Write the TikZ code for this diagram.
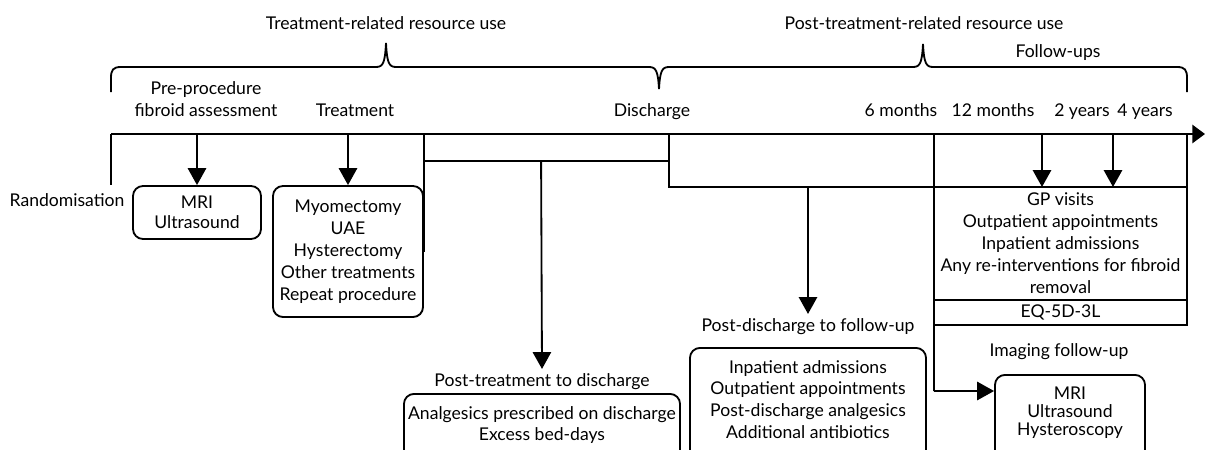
\documentclass[tikz,border=0pt]{standalone}
\usepackage{fontspec}
\setmainfont{Lato}
\usetikzlibrary{calc}
\usetikzlibrary{arrows.meta}
\usetikzlibrary{positioning}

\tikzset{
  line/.style={black,line width=1.3pt},
  arr/.style={line,-{Triangle[length=12pt,width=13pt]}},
  rbox/.style={line,draw,rounded corners=2.5mm,align=center,inner sep=0pt},
  sbox/.style={line,draw,align=center,inner sep=0pt,outer sep=0pt},
  lbl/.style={align=center,inner sep=2pt}
}

\begin{document}
\begin{tikzpicture}[x=0.025cm,y=-0.025cm,font=\fontsize{12.5}{15.6}\selectfont]
\clip (0,0) rectangle (1205,449);

\coordinate (T0) at (111,134);
\coordinate (T1) at (1205,134);
\coordinate (Rand) at (111,185);
\coordinate (J1) at (423,161);
\coordinate (J2) at (669,161);
\coordinate (J3) at (669,187);
\coordinate (F1) at (1042,134);
\coordinate (F2) at (1113,134);
\coordinate (Img) at (934,391);

% braces
\draw[line] (111,92) -- (111,78) .. controls (111,70) and (113,67) .. (121,67) -- (376,67) .. controls (383,67) and (385,63) .. (386,43) .. controls (387,63) and (389,67) .. (396,67) -- (649,67) .. controls (656,67) and (658,71) .. (659,89);
\draw[line] (659,89) .. controls (660,71) and (662,67) .. (669,67) -- (913,67) .. controls (920,67) and (922,63) .. (923,44) .. controls (924,63) and (926,67) .. (933,67) -- (1177,67) .. controls (1185,67) and (1187,70) .. (1187,78) -- (1187,92);

\node (trtitle) at (386,23) {Treatment-related resource use};
\node (pttitle) at (924,23) {Post-treatment-related resource use};
\node (followups) at (1058,53) {Follow-ups};

\node[lbl] (preproc) at (206,99) {Pre-procedure\\fibroid assessment};
\node[anchor=base] (treat) at (355,116) {Treatment};
\node[anchor=base] (discharge) at (652,116) {Discharge};
\node[anchor=base] (m6) at (901,116) {6 months};
\node[anchor=base] (m12) at (993,116) {12 months};
\node[anchor=base] (y2) at (1082,116) {2 years};
\node[anchor=base] (y4) at (1145,116) {4 years};
\node (rand) at (67,200) {Randomisation};

\node[rbox,minimum width=32mm,minimum height=13.25mm,font=\fontsize{12.5}{14.2}\selectfont] (mribox) at (197,212.5) {MRI\\Ultrasound};
\node[rbox,minimum width=37.5mm,minimum height=32.75mm] (treatbox) at (348,251.5) {Myomectomy\\UAE\\Hysterectomy\\Other treatments\\Repeat procedure};
\node[sbox,minimum width=63.25mm,minimum height=28.25mm] (fubox) at (1060.5,243.5) {GP visits\\Outpatient appointments\\Inpatient admissions\\Any re-interventions for fibroid\\removal};
\node[sbox,minimum width=63.25mm,minimum height=6.25mm,anchor=north] (eqbox) at (fubox.south) {EQ-5D-3L};

\node (ptdlabel) at (542,382) {Post-treatment to discharge};
\node[rbox,minimum width=69mm,minimum height=20mm,anchor=north] (ptdbox) at (542,393) {};
\node[lbl,below=2.5mm of ptdbox.north] (ptdtext) {Analgesics prescribed on discharge\\Excess bed-days};

\node (pdflabel) at (808,327) {Post-discharge to follow-up};
\node[rbox,minimum width=59mm,minimum height=28mm,anchor=north] (pdfbox) at (808,347) {};
\node[lbl,below=2.5mm of pdfbox.north] (pdftext) {Inpatient admissions\\Outpatient appointments\\Post-discharge analgesics\\Additional antibiotics};

\node (imglabel) at (1059,352) {Imaging follow-up};
\node[rbox,minimum width=37.5mm,minimum height=22mm,anchor=north] (imgbox) at (1070,374) {};
\node[lbl,below=2.5mm of imgbox.north,font=\fontsize{12.5}{12.6}\selectfont] (imgtext) {MRI\\Ultrasound\\Hysteroscopy};

% timeline
\draw[line,-{Triangle[length=9pt,width=13pt]}] (T0) -- (T1);
\draw[line] (T0) -- (Rand);
\draw[arr] (mribox.north |- T0) -- (mribox.north);
\draw[arr] (treatbox.north |- T0) -- (treatbox.north);
\draw[line] (treatbox.north east |- T0) -- (treatbox.east);
\draw[line] (J1) -- (J2);
\draw[arr] ($(J1)!0.48!(J2)$) -- (ptdlabel.north);
\draw[line] (J3 |- T0) -- (J3) -- (fubox.north west);
\draw[arr] (pdflabel.north |- J3) -- (pdflabel.north);
\draw[arr] (F1) -- (F1 |- fubox.north);
\draw[arr] (F2) -- (F2 |- fubox.north);
\draw[line] (fubox.north east |- T0) -- (fubox.north east);
\draw[line] (fubox.north west |- T0) -- (Img);
\draw[arr] (Img) -- (imgbox.west |- Img);

\end{tikzpicture}
\end{document}
